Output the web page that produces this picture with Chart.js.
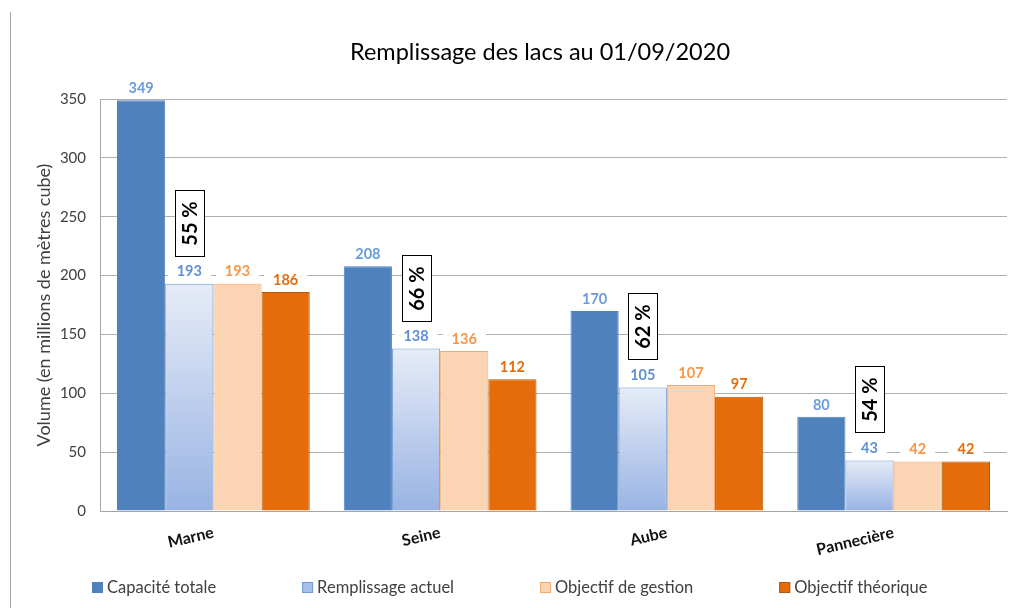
<!DOCTYPE html>
<html lang="fr">
<head>
<meta charset="UTF-8">
<title>Remplissage des lacs au 01/09/2020</title>
<script src="https://cdn.jsdelivr.net/npm/chart.js@4"></script>
<style>
  html, body { margin: 0; padding: 0; background: #fff; overflow: hidden; }
  #wrap { position: relative; width: 1016px; height: 608px; }
  #edge { position: absolute; left: 10px; top: 12px; bottom: 0; width: 1px; background: #a6a6a6; }
  canvas { position: absolute; left: 0; top: 0; }
</style>
</head>
<body>
<div id="wrap">
  <canvas id="chart" width="1016" height="608"></canvas>
  <div id="edge"></div>
</div>
<script>
// data
const chartTitle = 'Remplissage des lacs au 01/09/2020';
const yTitle = 'Volume (en millions de mètres cube)';
const lakes = ['Marne', 'Seine', 'Aube', 'Pannecière'];
const capaciteTotale = [349, 208, 170, 80];
const remplissageActuel = [193, 138, 105, 43];
const objectifGestion = [193, 136, 107, 42];
const objectifTheorique = [186, 112, 97, 42];
const tauxRemplissage = ['55 %', '66 %', '62 %', '54 %'];
const yTicks = [0, 50, 100, 150, 200, 250, 300, 350];

const FONT = 'Lato, "Open Sans", sans-serif';

// light blue gradient for each "Remplissage actuel" bar
function blueGradient(c) {
  const chart = c.chart;
  if (!chart.chartArea || c.type !== 'data') return '#c3d3ef';
  const ys = chart.scales.y;
  const top = ys.getPixelForValue(c.raw);
  const base = ys.getPixelForValue(0);
  const g = chart.ctx.createLinearGradient(0, top, 0, base);
  g.addColorStop(0, '#e6ecf7');
  g.addColorStop(1, '#98b3e3');
  return g;
}

const datasets = [
  { label: 'Capacité totale', data: capaciteTotale, backgroundColor: '#4f81bd', borderColor: '#4f81bd',
    labelColor: '#6a9bdb', legendFill: '#4f81bd', legendBorder: '#4f81bd' },
  { label: 'Remplissage actuel', data: remplissageActuel, backgroundColor: blueGradient, borderColor: '#6f9ad6',
    labelColor: '#5f8fd4', legendFill: '#a9c0e8', legendBorder: '#6f9ad6' },
  { label: 'Objectif de gestion', data: objectifGestion, backgroundColor: '#fbd4b4', borderColor: '#f6a96c',
    labelColor: '#f79646', legendFill: '#fbd4b4', legendBorder: '#f6a96c' },
  { label: 'Objectif théorique', data: objectifTheorique, backgroundColor: '#e46c0a', borderColor: '#b4580c',
    labelColor: '#e46c0a', legendFill: '#e46c0a', legendBorder: '#b4580c' }
];

// value labels on a white patch above every bar
const valueLabels = {
  id: 'valueLabels',
  afterDatasetsDraw(chart) {
    const ctx = chart.ctx;
    ctx.save();
    ctx.font = 'bold 14.5px ' + FONT;
    ctx.textAlign = 'center';
    ctx.textBaseline = 'middle';
    chart.data.datasets.forEach((ds, i) => {
      chart.getDatasetMeta(i).data.forEach((bar, j) => {
        const txt = String(ds.data[j]);
        const w = ctx.measureText(txt).width;
        const y = bar.y - 12;
        ctx.fillStyle = '#fff';
        ctx.fillRect(bar.x - w / 2 - 9, y - 8, w + 18, 16);
        ctx.fillStyle = ds.labelColor;
        ctx.fillText(txt, bar.x, y);
      });
    });
    ctx.restore();
  }
};

// boxed percentages above the "Remplissage actuel" bars
const pctBoxes = {
  id: 'pctBoxes',
  afterDatasetsDraw(chart) {
    const ctx = chart.ctx;
    const meta = chart.getDatasetMeta(1);
    ctx.save();
    meta.data.forEach((bar, j) => {
      const w = 29, h = 66;
      const left = Math.round(bar.x - w / 2) + 0.5;
      const top = Math.round(bar.y - 28 - h) + 0.5;
      ctx.fillStyle = '#fff';
      ctx.fillRect(left, top, w, h);
      ctx.strokeStyle = '#000';
      ctx.lineWidth = 1;
      ctx.strokeRect(left, top, w, h);
      ctx.save();
      ctx.translate(left + w / 2, top + h / 2);
      ctx.rotate(-Math.PI / 2);
      ctx.font = 'bold 20px ' + FONT;
      ctx.fillStyle = '#000';
      ctx.textAlign = 'center';
      ctx.textBaseline = 'middle';
      ctx.fillText(tauxRemplissage[j], 0, 1);
      ctx.restore();
    });
    ctx.restore();
  }
};

// title and legend drawn at the reference positions
const titleAndLegend = {
  id: 'titleAndLegend',
  afterDraw(chart) {
    const ctx = chart.ctx;
    ctx.save();
    ctx.font = '23.5px ' + FONT;
    ctx.fillStyle = '#000';
    ctx.textAlign = 'center';
    ctx.textBaseline = 'middle';
    ctx.fillText(chartTitle, 540, 52);

    ctx.font = '16.5px ' + FONT;
    ctx.textAlign = 'left';
    const box = 11, gapText = 4, gapItem = 86;
    const items = chart.data.datasets.map(ds => ({ ds, w: ctx.measureText(ds.label).width }));
    const total = items.reduce((s, it) => s + box + gapText + it.w, 0) + gapItem * (items.length - 1);
    let x = Math.round(510 - total / 2);
    const y = 588;
    items.forEach(it => {
      ctx.fillStyle = it.ds.legendFill;
      ctx.fillRect(x, y - 6, box, box);
      ctx.strokeStyle = it.ds.legendBorder;
      ctx.lineWidth = 1;
      ctx.strokeRect(x + 0.5, y - 5.5, box - 1, box - 1);
      ctx.fillStyle = '#404040';
      ctx.fillText(it.ds.label, x + box + gapText, y);
      x += box + gapText + it.w + gapItem;
    });
    ctx.restore();
  }
};

new Chart(document.getElementById('chart'), {
  type: 'bar',
  data: { labels: lakes, datasets: datasets },
  options: {
    responsive: false,
    animation: false,
    layout: { padding: { left: 31, right: 9, top: 99, bottom: 52 } },
    datasets: { bar: { categoryPercentage: 0.85, barPercentage: 1.0, borderWidth: 1 } },
    plugins: { legend: { display: false }, title: { display: false }, tooltip: { enabled: false } },
    scales: {
      x: {
        afterFit: s => { s.height = 45; },
        grid: { display: false, drawTicks: false },
        border: { display: true, color: '#a6a6a6' },
        ticks: { minRotation: 13, maxRotation: 13, padding: 12, color: '#111',
                 font: { family: FONT, size: 16, weight: 'bold' } }
      },
      y: {
        min: yTicks[0],
        max: yTicks[yTicks.length - 1],
        afterFit: s => { s.width = 69; },
        afterBuildTicks: s => { s.ticks = yTicks.map(v => ({ value: v })); },
        grid: { color: '#b0b0b0', drawTicks: false },
        border: { display: true, color: '#a6a6a6' },
        ticks: { padding: 14, color: '#404040', font: { family: FONT, size: 15 } },
        title: { display: true, text: yTitle, color: '#404040', font: { family: FONT, size: 18 }, padding: 2 }
      }
    }
  },
  plugins: [valueLabels, pctBoxes, titleAndLegend]
});
</script>
</body>
</html>
